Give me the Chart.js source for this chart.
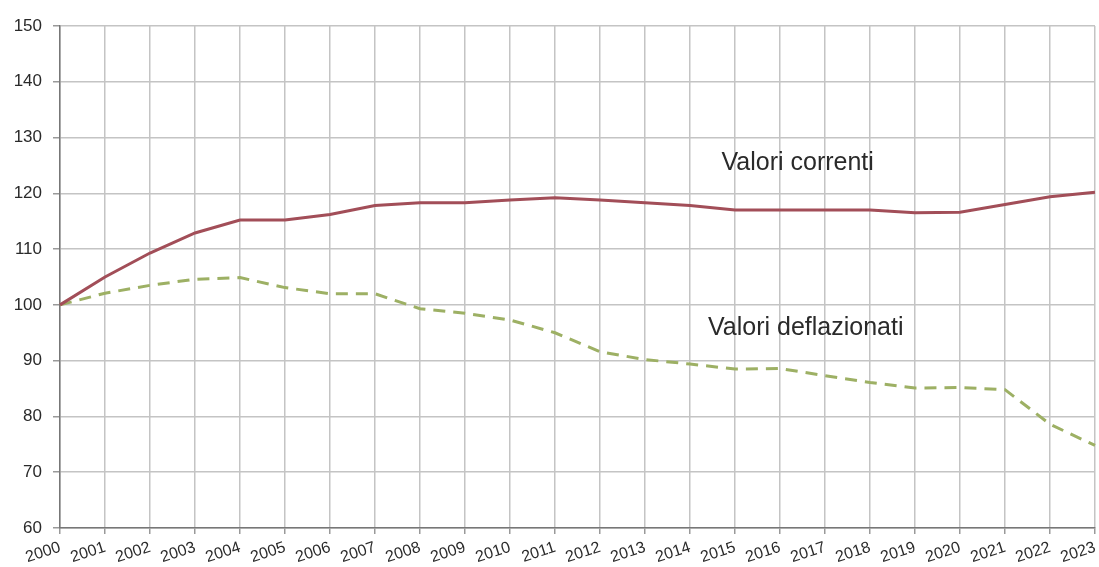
<!DOCTYPE html>
<html>
<head>
<meta charset="utf-8">
<script src="https://cdn.jsdelivr.net/npm/chart.js@4"></script>
<style>
  html, body { margin: 0; padding: 0; background: #fff; }
  #wrap { width: 1099px; height: 567px; position: relative; }
</style>
</head>
<body>
<div id="wrap"><canvas id="c"></canvas></div>
<script>
// Index numbers, 2000 = 100
const years = ['2000','2001','2002','2003','2004','2005','2006','2007','2008','2009','2010','2011',
               '2012','2013','2014','2015','2016','2017','2018','2019','2020','2021','2022','2023'];
const valoriCorrenti = [100, 105, 109.3, 112.9, 115.2, 115.2, 116.2, 117.8, 118.3, 118.3, 118.8, 119.2,
                        118.8, 118.3, 117.8, 117.0, 117.0, 117.0, 117.0, 116.5, 116.6, 118.0, 119.4, 120.2];
const valoriDeflazionati = [100, 102.1, 103.5, 104.6, 104.9, 103.1, 102.0, 102.0, 99.3, 98.5, 97.3, 95.0,
                            91.6, 90.2, 89.4, 88.5, 88.6, 87.3, 86.1, 85.1, 85.2, 84.8, 78.6, 74.8];
const yTicks = { min: 60, max: 150, step: 10 };
const seriesLabels = ['Valori correnti', 'Valori deflazionati'];

const FONT = '"Liberation Sans", Arial, sans-serif';

// Text labels placed next to each series, positioned through the scales
const seriesText = {
  id: 'seriesText',
  afterDatasetsDraw(chart) {
    const { ctx, scales: { x, y } } = chart;
    ctx.save();
    ctx.font = '25px ' + FONT;
    ctx.fillStyle = '#2a2a2a';
    ctx.textAlign = 'left';
    ctx.textBaseline = 'middle';
    ctx.fillText(seriesLabels[0], x.getPixelForValue(14.7), y.getPixelForValue(125.4));
    ctx.fillText(seriesLabels[1], x.getPixelForValue(14.4), y.getPixelForValue(95.9));
    ctx.restore();
  }
};

new Chart(document.getElementById('c'), {
  type: 'line',
  data: {
    labels: years,
    datasets: [
      {
        label: seriesLabels[0],
        data: valoriCorrenti,
        borderColor: '#a24e58',
        borderWidth: 3,
        pointRadius: 0,
        tension: 0,
        fill: false
      },
      {
        label: seriesLabels[1],
        data: valoriDeflazionati,
        borderColor: '#9db064',
        borderWidth: 3,
        borderDash: [12, 8],
        pointRadius: 0,
        tension: 0,
        fill: false
      }
    ]
  },
  plugins: [seriesText],
  options: {
    responsive: true,
    maintainAspectRatio: false,
    animation: false,
    layout: { padding: { top: 26, right: 2, left: 0, bottom: 0 } },
    plugins: {
      legend: { display: false },
      tooltip: { enabled: false }
    },
    scales: {
      x: {
        offset: false,
        afterFit(scale) { scale.height = 39; scale.paddingRight = 4; },
        grid: { color: '#c4c4c4', lineWidth: 1.5, tickLength: 6, tickColor: '#999' },
        border: { color: '#777', width: 1.5 },
        ticks: {
          font: { family: FONT, size: 16 },
          color: '#2a2a2a',
          minRotation: 18,
          maxRotation: 18,
          autoSkip: false,
          padding: 4
        }
      },
      y: {
        min: yTicks.min,
        max: yTicks.max,
        afterFit(scale) { scale.width = 60; },
        grid: { color: '#c4c4c4', lineWidth: 1.5, tickLength: 7, tickColor: '#999' },
        border: { color: '#777', width: 1.5 },
        ticks: {
          stepSize: yTicks.step,
          font: { family: FONT, size: 17 },
          color: '#2a2a2a',
          padding: 11
        }
      }
    }
  }
});
</script>
</body>
</html>
